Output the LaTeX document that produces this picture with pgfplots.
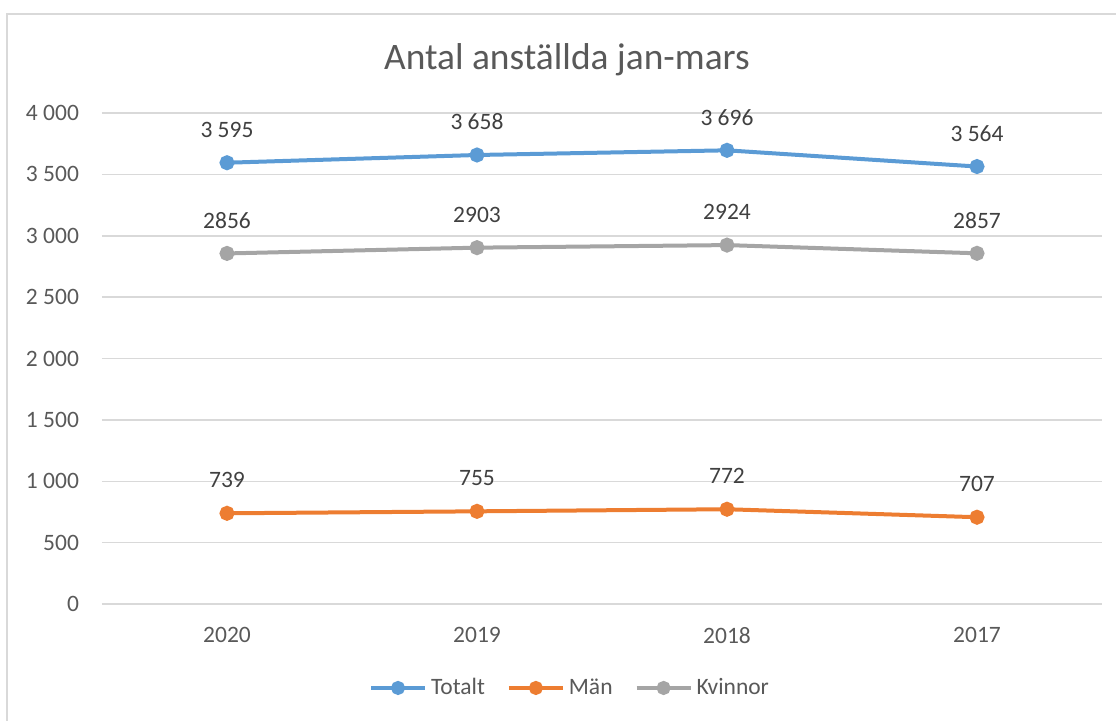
\documentclass[border=0pt]{standalone}
\usepackage{pgfplots}
\pgfplotsset{compat=1.18}
\usepackage{fontspec}
\setmainfont{Carlito}
\definecolor{totBlue}{HTML}{5B9BD5}
\definecolor{manOrange}{HTML}{ED7D31}
\definecolor{kvGray}{HTML}{A5A5A5}
\definecolor{gridGray}{HTML}{D9D9D9}
\definecolor{txtGray}{HTML}{595959}
\definecolor{lblGray}{HTML}{404040}

\begin{document}
\begin{tikzpicture}
  \begin{axis}[
      name=ax, at={(0,0)}, anchor=south west,
      scale only axis, width=500pt, height=245.5pt,
      xmin=-0.5, xmax=3.5, ymin=0, ymax=4000,
      xtick={0,1,2,3}, xticklabels={2020,2019,2018,2017},
      ytick={0,500,...,4000},
      yticklabels={0,500,1 000,1 500,2 000,2 500,3 000,3 500,4 000},
      ymajorgrids, grid style={gridGray, line width=0.75pt},
      axis line style={draw=none}, major tick length=0pt,
      tick label style={font=\fontsize{11.75}{14}\selectfont, text=txtGray},
      yticklabel style={xshift=-8pt},
      xticklabel style={yshift=-8pt},
      point meta=explicit symbolic,
      nodes near coords,
      every node near coord/.append style={anchor=center, yshift=16.5pt,
        font=\fontsize{11.75}{14}\selectfont, text=lblGray},
      every axis plot/.append style={line width=2pt, mark=*,
        mark size=2.75pt, mark options={solid}},
      clip=false,
      legend columns=-1,
      legend style={at={(0.469,-0.171)}, anchor=center, draw=none,
        font=\fontsize{11.75}{14}\selectfont, text=txtGray,
        /tikz/every even column/.append style={column sep=9pt}},
      legend image code/.code={
        \draw[mark repeat=2, mark phase=2, mark size=2.5pt] plot coordinates {(0pt,0pt) (13.5pt,0pt) (27pt,0pt)};},
    ]
    \addplot[color=totBlue] coordinates {
      (0,3595) [3 595] (1,3658) [3 658] (2,3696) [3 696] (3,3564) [3 564]};
    \addlegendentry{Totalt}
    \addplot[color=manOrange] coordinates {
      (0,739) [739] (1,755) [755] (2,772) [772] (3,707) [707]};
    \addlegendentry{Män}
    \addplot[color=kvGray] coordinates {
      (0,2856) [2856] (1,2903) [2903] (2,2924) [2924] (3,2857) [2857]};
    \addlegendentry{Kvinnor}
  \end{axis}
  \node[text=txtGray, font=\fontsize{18.7}{22}\selectfont] at (232.5pt,272pt) {Antal anställda jan-mars};
  \pgfresetboundingbox
  \path[use as bounding box] (-51pt,-58pt) rectangle (507pt,302pt);
  \draw[gridGray, line width=1pt] (-47.5pt,-60pt) -- (-47.5pt,295pt) -- (510pt,295pt);
\end{tikzpicture}
\end{document}
